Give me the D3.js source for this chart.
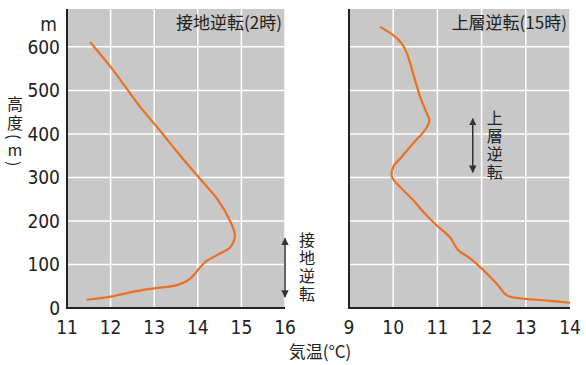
<!DOCTYPE html>
<html>
<head>
<meta charset="utf-8">
<title>気温の逆転層</title>
<script src="https://cdn.jsdelivr.net/npm/d3@7"></script>
<style>
  body { margin: 0; background: #fff; }
  svg { display: block; }
  .tick-num { font-family: "Liberation Sans Narrow", "DejaVu Sans Condensed", "Liberation Sans", sans-serif; font-size: 19px; fill: #222; }
  .jp { font-family: "Noto Sans CJK JP", sans-serif; font-size: 16px; fill: #222; }
  .vert { writing-mode: vertical-rl; }
</style>
</head>
<body>
<div id="chart"></div>
<script>
// 高度(m)の目盛り
var heightTicks = [0, 100, 200, 300, 400, 500, 600];
var heightMax = 687;

// 接地逆転(2時) : 気温, 高度
var nightTemp   = [11.45, 12.0, 12.5, 13.0, 13.5, 13.75, 13.9, 14.05, 14.2, 14.45, 14.75, 14.85, 14.74, 14.45, 14.05, 13.59, 13.13, 12.71, 12.37, 12.03, 11.53];
var nightHeight = [19, 26, 37, 45, 52, 62, 75, 93, 108, 122, 140, 167, 200, 250, 297, 351, 408, 458, 504, 550, 611];
var nightTicks  = [11, 12, 13, 14, 15, 16];

// 上層逆転(15時)
var dayTemp   = [9.7, 10.0, 10.19, 10.31, 10.45, 10.61, 10.76, 10.82, 10.72, 10.45, 10.19, 10.0, 9.97, 10.12, 10.45, 10.68, 10.98, 11.28, 11.47, 11.74, 12.04, 12.34, 12.57, 12.75, 13.0, 13.5, 14.0];
var dayHeight = [646, 627, 608, 585, 539, 485, 447, 431, 409, 378, 347, 324, 301, 282, 248, 221, 190, 163, 133, 114, 87, 56, 29, 24, 21, 17, 12];
var dayTicks  = [9, 10, 11, 12, 13, 14];

// 注記: 矢印の位置 (気温, 高度の範囲)
var nightArrow = { temp: 16, from: 25, to: 160, label: "接地逆転" };
var dayArrow   = { temp: 11.8, from: 312, to: 435, label: "上層逆転" };

var W = 586, H = 365;
var svg = d3.select("#chart").append("svg").attr("width", W).attr("height", H);

svg.append("defs").append("marker").attr("id", "arr")
  .attr("viewBox", "0 0 10 10").attr("refX", 9).attr("refY", 5)
  .attr("markerWidth", 5).attr("markerHeight", 5).attr("orient", "auto-start-reverse")
  .append("path").attr("d", "M0,0L10,5L0,10z").attr("fill", "#333");

var y = d3.scaleLinear().domain([0, heightMax]).range([308, 9]);

function panel(x0, x1, ticks, temps, heights, title, arrow) {
  var x = d3.scaleLinear().domain([ticks[0], ticks[ticks.length - 1]]).range([x0, x1]);
  var g = svg.append("g");

  g.append("rect").attr("x", x0).attr("y", y(heightMax))
    .attr("width", x1 - x0).attr("height", y(0) - y(heightMax)).attr("fill", "#c8c8c8");

  // grid
  g.selectAll(".vg").data(ticks.slice(1)).enter().append("line")
    .attr("x1", d => x(d)).attr("x2", d => x(d)).attr("y1", y(0)).attr("y2", y(heightMax))
    .attr("stroke", "#fff").attr("stroke-width", 1.5);
  g.selectAll(".hg").data(heightTicks.slice(1)).enter().append("line")
    .attr("x1", x0).attr("x2", x1).attr("y1", d => y(d)).attr("y2", d => y(d))
    .attr("stroke", "#fff").attr("stroke-width", 1.5);

  // axes
  g.append("line").attr("x1", x0).attr("x2", x0).attr("y1", y(heightMax)).attr("y2", y(0) + 1)
    .attr("stroke", "#222").attr("stroke-width", 2);
  g.append("line").attr("x1", x0 - 1).attr("x2", x1).attr("y1", y(0)).attr("y2", y(0))
    .attr("stroke", "#222").attr("stroke-width", 2);

  g.selectAll(".xt").data(ticks).enter().append("text").attr("class", "tick-num")
    .attr("x", d => x(d)).attr("y", 334).attr("text-anchor", "middle").text(d => d);

  // curve
  var pts = temps.map((t, i) => [t, heights[i]]);
  g.append("path").datum(pts)
    .attr("d", d3.line().x(d => x(d[0])).y(d => y(d[1])).curve(d3.curveCatmullRom.alpha(0.5)))
    .attr("fill", "none").attr("stroke", "#ec7022").attr("stroke-width", 2.2);

  g.append("text").attr("class", "jp").style("font-size", "17px")
    .attr("x", x1 - 3).attr("y", 29).attr("text-anchor", "end").text(title);

  // arrow + vertical label
  var ax = x(arrow.temp);
  g.append("line").attr("x1", ax).attr("x2", ax)
    .attr("y1", y(arrow.from)).attr("y2", y(arrow.to))
    .attr("stroke", "#333").attr("stroke-width", 1.5)
    .attr("marker-start", "url(#arr)").attr("marker-end", "url(#arr)");
  var mid = (y(arrow.from) + y(arrow.to)) / 2;
  g.append("text").attr("class", "jp vert")
    .attr("x", ax + 22).attr("y", mid).attr("text-anchor", "middle")
    .style("letter-spacing", "2px")
    .text(arrow.label);
  return x;
}

panel(67, 285, nightTicks, nightTemp, nightHeight, "接地逆転(2時)", nightArrow);
panel(349, 570, dayTicks, dayTemp, dayHeight, "上層逆転(15時)", dayArrow);

// y tick labels (left panel only)
svg.selectAll(".yt").data(heightTicks).enter().append("text").attr("class", "tick-num")
  .attr("x", 60).attr("y", d => y(d) + 7).attr("text-anchor", "end").text(d => d);
svg.append("text").attr("class", "tick-num").attr("x", 57).attr("y", 31)
  .attr("text-anchor", "end").text("m");

// y label 高度(m), vertical
var ylab = svg.append("text").attr("class", "jp vert")
  .attr("x", 15).attr("y", 96).style("letter-spacing", "3px");
ylab.append("tspan").text("高度(");
ylab.append("tspan").style("text-orientation", "upright").text("m");
ylab.append("tspan").text(")");

svg.append("text").attr("class", "jp").style("font-size", "17px")
  .attr("x", 320).attr("y", 358).attr("text-anchor", "middle").text("気温(°C)");
</script>
</body>
</html>
